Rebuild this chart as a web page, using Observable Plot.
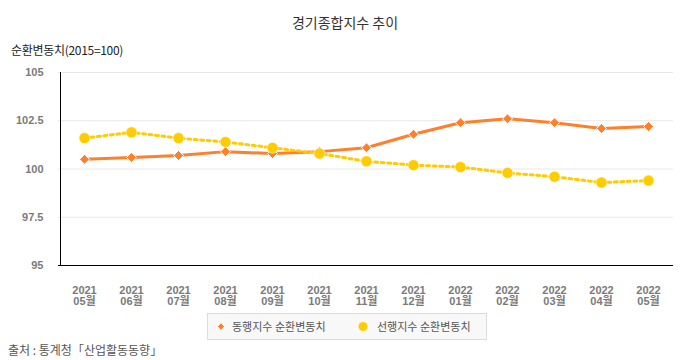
<!DOCTYPE html>
<html><head><meta charset="utf-8">
<script src="https://cdn.jsdelivr.net/npm/d3@7"></script>
<script src="https://cdn.jsdelivr.net/npm/@observablehq/plot@0.6"></script>
<style>
body{margin:0;background:#fff;font-family:"Noto Sans CJK KR","Noto Sans",sans-serif;}
#wrap{position:relative;width:690px;height:360px;overflow:hidden;}
#title{position:absolute;left:0;width:690px;top:12px;text-align:center;font-size:14px;color:#333;}
#sub{position:absolute;left:11px;top:41px;font-size:12px;color:#222;letter-spacing:-0.3px;white-space:nowrap;}
#chart{position:absolute;left:0;top:60px;}
#legend{position:absolute;left:207px;top:313px;width:278px;height:25px;border:1px solid #dcdcdc;background:#f8f8f8;font-size:11px;color:#555;white-space:nowrap;}
#legend span{position:absolute;top:4px;}
#cap{position:absolute;left:8px;top:341px;font-size:12px;color:#555;white-space:nowrap;}
</style></head>
<body><div id="wrap">
<div id="title">경기종합지수 추이</div>
<div id="sub">순환변동치(2015=100)</div>
<div id="chart"></div>
<div id="legend">
<svg width="278" height="25" style="position:absolute;left:0;top:0"><path d="M13,8.5 L16.5,12.5 L13,16.5 L9.5,12.5Z" fill="#ff7f2a" stroke="#fff" stroke-width="1"/><circle cx="155" cy="12.5" r="4.5" fill="#ffcc00"/></svg>
<span style="left:24px">동행지수 순환변동치</span>
<span style="left:169px">선행지수 순환변동치</span>
</div>
<div id="cap">출처 : 통계청「산업활동동향」</div>
</div>
<script>
const months = ["2021\n05월","2021\n06월","2021\n07월","2021\n08월","2021\n09월","2021\n10월","2021\n11월","2021\n12월","2022\n01월","2022\n02월","2022\n03월","2022\n04월","2022\n05월"];
const coincident = [100.5,100.6,100.7,100.9,100.8,100.9,101.1,101.8,102.4,102.6,102.4,102.1,102.2];
const leading = [101.6,101.9,101.6,101.4,101.1,100.8,100.4,100.2,100.1,99.8,99.6,99.3,99.4];
const yTicks = [95,97.5,100,102.5,105];

const co = months.map((m,i)=>({m, v:coincident[i]}));
const le = months.map((m,i)=>({m, v:leading[i]}));

const chart = Plot.plot({
  width: 690, height: 250,
  marginLeft: 58, marginRight: 17, marginTop: 12, marginBottom: 45,
  style: {fontFamily: '"Liberation Sans","Noto Sans CJK KR",sans-serif', fontSize: "11px", background: "#fff"},
  x: {type: "point", domain: months, padding: 0.5, label: null},
  y: {domain: [95,105], ticks: yTicks, label: null},
  marks: [
    Plot.gridY(yTicks, {stroke: "#e8e8e8", strokeOpacity: 1}),
    Plot.axisY({ticks: yTicks, tickSize: 0, tickPadding: 15, label: null, fill: "#7a7a7a", fontWeight: "bold", tickFormat: d => String(d)}),
    Plot.axisX({tickSize: 0, tickPadding: 20, label: null, fill: "#7a7a7a", fontWeight: "bold", lineHeight: 1.05}),
    Plot.ruleX([months[0]], {y1: 95, y2: 105, stroke: "#000", strokeWidth: 1, dx: -24}),
    Plot.ruleY([95], {stroke: "#000", strokeWidth: 1}),
    Plot.line(co, {x: "m", y: "v", stroke: "#fff", strokeWidth: 5.5}),
    Plot.line(co, {x: "m", y: "v", stroke: "#ff7f2a", strokeWidth: 3}),
    Plot.dot(co, {x: "m", y: "v", symbol: "diamond2", r: 4.5, fill: "#ff7f2a", stroke: "#fff", strokeWidth: 1}),
    Plot.line(le, {x: "m", y: "v", stroke: "#ffcc00", strokeWidth: 3, strokeDasharray: "3,3.5", curve: "linear"}),
    Plot.dot(le, {x: "m", y: "v", r: 5.5, fill: "#ffcc00", stroke: "#fff", strokeWidth: 0.5})
  ]
});
document.getElementById("chart").appendChild(chart);
</script>
</body></html>
